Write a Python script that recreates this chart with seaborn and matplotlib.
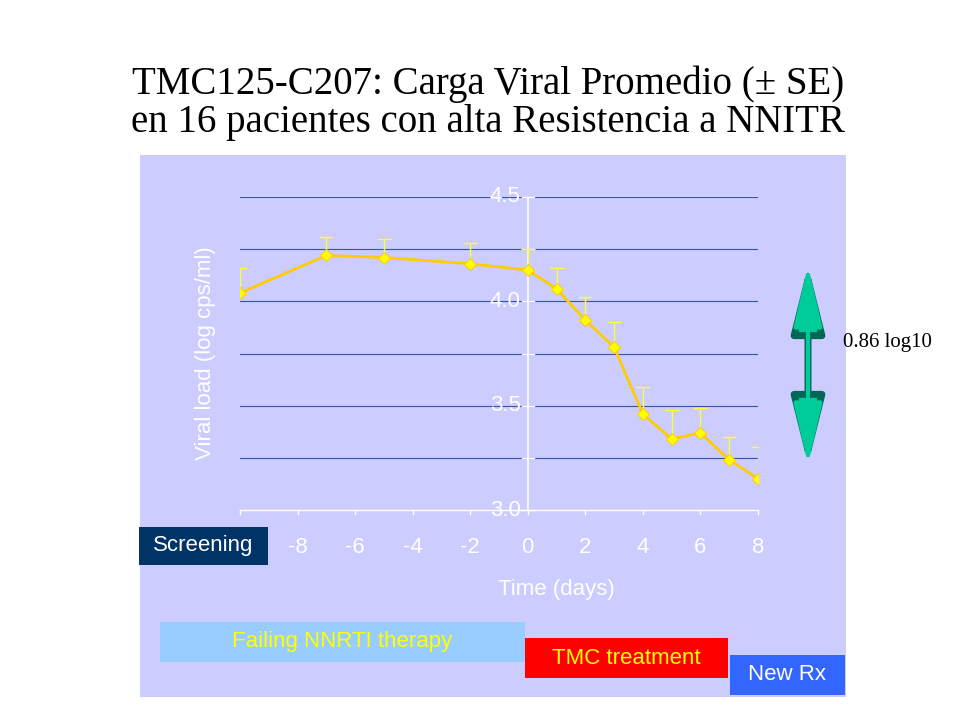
import matplotlib
matplotlib.use("Agg")
import matplotlib.pyplot as plt
import seaborn as sns
import pandas as pd
from matplotlib.patches import Rectangle, FancyArrowPatch

# data
days = [-10, -7, -5, -2, 0, 1, 2, 3, 4, 5, 6, 7, 8]
viral_load = [4.04, 4.22, 4.21, 4.18, 4.15, 4.06, 3.91, 3.78, 3.46, 3.34, 3.37, 3.24, 3.15]
se_upper = [0.12, 0.09, 0.09, 0.10, 0.10, 0.10, 0.11, 0.12, 0.13, 0.14, 0.12, 0.11, 0.15]
x_ticks = [-8, -6, -4, -2, 0, 2, 4, 6, 8]
y_ticks = [3.0, 3.5, 4.0, 4.5]
grid_levels = [3.25, 3.5, 3.75, 4.0, 4.25, 4.5]

plt.rcParams["font.family"] = "Liberation Sans"
df = pd.DataFrame({"day": days, "vl": viral_load})

fig = plt.figure(figsize=(9.6, 7.2), dpi=100)
fig.patch.set_facecolor("white")

# lavender panel
fig.patches.append(Rectangle((140 / 960, 1 - 697 / 720), 706 / 960, 542 / 720,
                             transform=fig.transFigure, facecolor="#ccccff", edgecolor="none", zorder=-5))

ax = fig.add_axes([240 / 960, 1 - 510 / 720, 518 / 960, 313 / 720])
ax.set_zorder(2)
ax.set_facecolor("none")
ax.set_xlim(-10, 8)
ax.set_ylim(3.0, 4.5)
for s in ax.spines.values():
    s.set_visible(False)

for g in grid_levels:
    ax.axhline(g, color="#3355aa", lw=0.8, zorder=1)
ax.plot([-10, 8], [3.0, 3.0], color="white", lw=1, clip_on=False, zorder=2)
ax.axvline(0, color="white", lw=1.2, zorder=2)
for g in grid_levels + [3.0]:
    ax.plot([-0.2, 0.2], [g, g], color="white", lw=1, clip_on=False, zorder=2)
for t in [-10] + x_ticks:
    ax.plot([t, t], [3.0, 2.98], color="white", lw=1, clip_on=False)

ax.errorbar(days, viral_load, yerr=[[0] * len(days), se_upper], fmt="none",
            ecolor="#ffff33", capsize=5, elinewidth=1, zorder=3)
sns.lineplot(data=df, x="day", y="vl", ax=ax, color="#ffcc00", lw=2, marker="D",
             markersize=6, markerfacecolor="#ffff00", markeredgecolor="#ffcc00", zorder=4)

ax.set_xticks([])
ax.set_yticks([])
ax.set_xlabel("")
ax.set_ylabel("")
for t in x_ticks:
    ax.text(t, 2.82, f"{t}", color="white", fontsize=16, ha="center", va="center")
for t in y_ticks:
    ax.text(-0.25, t, f"{t:.1f}", color="white", fontsize=16, ha="right", va="center")
ax.text(1, 2.62, "Time (days)", color="white", fontsize=16, ha="center", va="center")
ax.text(-11.2, 3.75, "Viral load (log cps/ml)", color="white", fontsize=16,
        rotation=90, ha="center", va="center")

def box(x0, y0, x1, y1, color, text, tcolor):
    fig.patches.append(Rectangle((x0 / 960, 1 - y1 / 720), (x1 - x0) / 960, (y1 - y0) / 720,
                                 transform=fig.transFigure, facecolor=color, edgecolor="none", zorder=5))
    fig.text((x0 + x1) / 2 / 960, 1 - (y0 + y1) / 2 / 720, text, color=tcolor,
             fontsize=16, ha="center", va="center", zorder=6)

box(139, 527, 268, 565, "#003366", "Screening", "white")
box(160, 622, 525, 662, "#99ccff", "Failing NNRTI therapy", "#ffff00")
box(525, 638, 728, 678, "#ff0000", "TMC treatment", "#ffff00")
box(730, 655, 845, 695, "#3366ff", "New Rx", "white")

arrow = FancyArrowPatch((808 / 960, 1 - 263 / 720), (808 / 960, 1 - 467 / 720),
                        transform=fig.transFigure, arrowstyle="<|-|>,head_width=10,head_length=40",
                        facecolor="#00cc99", edgecolor="#006655", lw=5, mutation_scale=1)
fig.patches.append(arrow)
fig.patches.append(FancyArrowPatch((808 / 960, 1 - 263 / 720), (808 / 960, 1 - 467 / 720),
                        transform=fig.transFigure, arrowstyle="<|-|>,head_width=9,head_length=38",
                        facecolor="#00cc99", edgecolor="#00cc99", lw=3, mutation_scale=1))
fig.text(843 / 960, 1 - 343 / 720, "0.86 log10", fontsize=15, family="Liberation Serif",
         ha="left", va="center")

fig.text(0.508, 1 - 103 / 720, "TMC125-C207: Carga Viral Promedio (\u00b1 SE)\nen 16 pacientes con alta Resistencia a NNITR",
         fontsize=28, family="Liberation Serif", ha="center", va="center", linespacing=1.05)

fig.savefig("out.png", dpi=100)
